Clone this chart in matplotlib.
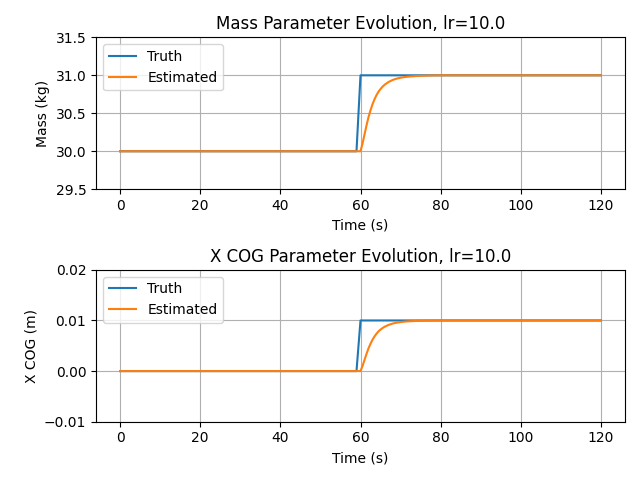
import matplotlib
matplotlib.use('Agg')
import matplotlib.pyplot as plt

# time samples (s)
truth_t = [0, 59, 60, 120]
truth_mass = [30.0, 30.0, 31.0, 31.0]
truth_xcog = [0.0, 0.0, 0.01, 0.01]

est_t = [0, 60, 60.5, 61, 61.5, 62, 62.5, 63, 63.5, 64, 64.5, 65, 65.5, 66, 67,
         68, 69, 70, 71, 72, 74, 76, 78, 80, 120]
# fraction of the step reached by the estimate
est_frac = [0.0, 0.0, 0.10, 0.22, 0.34, 0.45, 0.54, 0.62, 0.685, 0.74, 0.785,
            0.82, 0.85, 0.875, 0.912, 0.938, 0.956, 0.968, 0.977, 0.983, 0.991,
            0.995, 0.998, 1.0, 1.0]
est_mass = [30.0 + f for f in est_frac]
est_xcog = [0.01 * f for f in est_frac]

fig, (ax1, ax2) = plt.subplots(2, 1, figsize=(6.4, 4.8), dpi=100)

ax1.plot(truth_t, truth_mass, label='Truth')
ax1.plot(est_t, est_mass, label='Estimated')
ax1.set_title('Mass Parameter Evolution, lr=10.0')
ax1.set_xlabel('Time (s)')
ax1.set_ylabel('Mass (kg)')
ax1.set_ylim(29.5, 31.5)
ax1.grid(True)
ax1.legend(loc='upper left')

ax2.plot(truth_t, truth_xcog, label='Truth')
ax2.plot(est_t, est_xcog, label='Estimated')
ax2.set_title('X COG Parameter Evolution, lr=10.0')
ax2.set_xlabel('Time (s)')
ax2.set_ylabel('X COG (m)')
ax2.set_ylim(-0.01, 0.02)
ax2.set_yticks([-0.01, 0.0, 0.01, 0.02])
ax2.grid(True)
ax2.legend(loc='upper left')

fig.tight_layout()
fig.subplots_adjust(left=0.15)
fig.savefig('out.png')
